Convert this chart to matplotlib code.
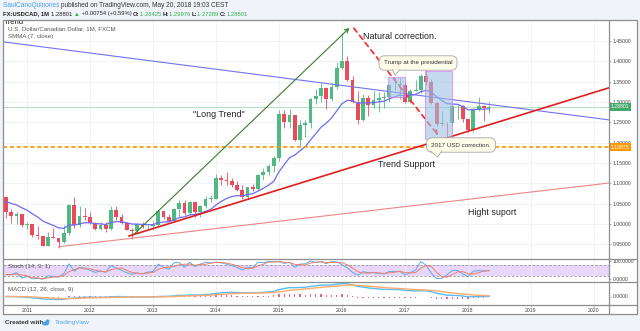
import matplotlib.pyplot as plt
import numpy as np
import pandas as pd
from matplotlib.patches import Rectangle, Polygon, Ellipse

W, H = 640, 331
plt.rcParams['font.family'] = ['Liberation Sans', 'DejaVu Sans']

# USDCAD monthly bars (FXCM), Sep 2010 .. May 2018
start = 2010 + 8 / 12
opens = [1.0660, 1.0285, 1.0200, 1.0250,
         0.9980, 1.0000, 0.9720, 0.9700, 0.9460, 0.9690, 0.9650, 0.9560, 0.9790, 1.0470, 0.9970, 1.0200,
         1.0180, 1.0020, 0.9880, 0.9980, 0.9880, 1.0350, 1.0180, 1.0030, 0.9860, 0.9830, 0.9990, 0.9940,
         0.9950, 0.9980, 1.0310, 1.0160, 1.0080, 1.0370, 1.0510, 1.0270, 1.0530, 1.0300, 1.0430, 1.0620,
         1.0620, 1.1130, 1.1080, 1.1050, 1.0960, 1.0840, 1.0670, 1.0900, 1.0870, 1.1200, 1.1270, 1.1430,
         1.1620, 1.2700, 1.2500, 1.2670, 1.2070, 1.2440, 1.2490, 1.3070, 1.3140, 1.3340, 1.3080, 1.3360,
         1.3840, 1.4020, 1.3530, 1.2990, 1.2550, 1.3090, 1.2920, 1.3060, 1.3110, 1.3120, 1.3410, 1.3430,
         1.3430, 1.3010, 1.3280, 1.3300, 1.3650, 1.3500, 1.2970, 1.2470, 1.2490, 1.2480, 1.2890, 1.2900,
         1.2570, 1.2320, 1.2820, 1.2890, 1.28425]
highs = [1.0680, 1.0370, 1.0300, 1.0250,
         1.0050, 1.0000, 0.9940, 0.9700, 0.9810, 0.9900, 0.9650, 0.9970, 1.0500, 1.0660, 1.0450, 1.0400,
         1.0290, 1.0050, 1.0050, 1.0050, 1.0450, 1.0450, 1.0250, 1.0050, 0.9890, 1.0000, 1.0050, 0.9970,
         1.0080, 1.0340, 1.0330, 1.0250, 1.0400, 1.0600, 1.0580, 1.0560, 1.0540, 1.0470, 1.0680, 1.0720,
         1.1220, 1.1200, 1.1280, 1.1140, 1.1050, 1.0960, 1.0920, 1.0990, 1.1220, 1.1380, 1.1470, 1.1670,
         1.2800, 1.2800, 1.2830, 1.2690, 1.2560, 1.2560, 1.3100, 1.3330, 1.3460, 1.3360, 1.3460, 1.3990,
         1.4690, 1.4140, 1.3650, 1.3260, 1.3190, 1.3160, 1.3260, 1.3250, 1.3240, 1.3420, 1.3600, 1.3600,
         1.3500, 1.3310, 1.3540, 1.3700, 1.3790, 1.3560, 1.3010, 1.2780, 1.2510, 1.2920, 1.2920, 1.2920,
         1.2590, 1.2860, 1.3120, 1.2930, 1.29976]
lows = [1.0150, 1.0030, 1.0000, 0.9930,
        0.9870, 0.9690, 0.9640, 0.9450, 0.9450, 0.9650, 0.9406, 0.9520, 0.9720, 0.9900, 0.9920, 1.0100,
        0.9990, 0.9840, 0.9840, 0.9800, 0.9860, 1.0100, 1.0000, 0.9860, 0.9630, 0.9780, 0.9910, 0.9840,
        0.9840, 0.9960, 1.0120, 1.0070, 1.0040, 1.0160, 1.0230, 1.0230, 1.0180, 1.0180, 1.0400, 1.0550,
        1.0620, 1.0950, 1.0960, 1.0910, 1.0810, 1.0620, 1.0620, 1.0810, 1.0840, 1.1080, 1.1210, 1.1290,
        1.1560, 1.2350, 1.2360, 1.2050, 1.1920, 1.2140, 1.2360, 1.2950, 1.3010, 1.2830, 1.3020, 1.3330,
        1.3820, 1.3520, 1.2970, 1.2460, 1.2540, 1.2660, 1.2850, 1.2760, 1.2840, 1.3000, 1.3290, 1.3080,
        1.2970, 1.2970, 1.3260, 1.3220, 1.3420, 1.2960, 1.2410, 1.2410, 1.2060, 1.2440, 1.2590, 1.2510,
        1.2250, 1.2250, 1.2790, 1.2530, 1.27289]
closes = [1.0285, 1.0200, 1.0250, 0.9980,
          1.0000, 0.9720, 0.9700, 0.9460, 0.9690, 0.9650, 0.9560, 0.9790, 1.0470, 0.9970, 1.0200, 1.0180,
          1.0020, 0.9880, 0.9980, 0.9880, 1.0350, 1.0180, 1.0030, 0.9860, 0.9830, 0.9990, 0.9940, 0.9950,
          0.9980, 1.0310, 1.0160, 1.0080, 1.0370, 1.0510, 1.0270, 1.0530, 1.0300, 1.0430, 1.0620, 1.0620,
          1.1130, 1.1080, 1.1050, 1.0960, 1.0840, 1.0670, 1.0900, 1.0870, 1.1200, 1.1270, 1.1430, 1.1620,
          1.2700, 1.2500, 1.2670, 1.2070, 1.2440, 1.2490, 1.3070, 1.3140, 1.3340, 1.3080, 1.3360, 1.3840,
          1.4020, 1.3530, 1.2990, 1.2550, 1.3090, 1.2920, 1.3060, 1.3110, 1.3120, 1.3410, 1.3430, 1.3430,
          1.3010, 1.3280, 1.3300, 1.3650, 1.3500, 1.2970, 1.2470, 1.2490, 1.2480, 1.2890, 1.2900, 1.2570,
          1.2320, 1.2820, 1.2890, 1.2843, 1.28801]

smma_start = 1.06          # SMMA value carried in from before Sep 2010
last_close = 1.28801
level_2017 = 1.18875
years = list(range(2011, 2021))
price_ticks = [0.95, 1.00, 1.05, 1.10, 1.15, 1.20, 1.25, 1.30, 1.35, 1.40, 1.45]

up_col, dn_col = '#4fb883', '#ea4a5a'
grid_col = '#edf1f5'
frame_col = '#8e8e8e'
axis_fs = 3.7

# indicators
cs = pd.Series(closes)
smma = []
prev = smma_start
for c in closes:
    prev = (prev * 6 + c) / 7
    smma.append(prev)
hh = pd.Series(highs).rolling(14, min_periods=1).max()
ll = pd.Series(lows).rolling(14, min_periods=1).min()
stoch_k = 100 * (cs - ll) / (hh - ll)
stoch_d = stoch_k.rolling(3, min_periods=1).mean()
macd = cs.ewm(span=12, adjust=False).mean() - cs.ewm(span=26, adjust=False).mean()
signal = macd.ewm(span=9, adjust=False).mean()
hist = macd - signal

t = start + np.arange(len(closes)) / 12
o, h, l, c = map(np.array, (opens, highs, lows, closes))
cols = np.where(c >= o, up_col, dn_col)

fig = plt.figure(figsize=(W / 100, H / 100), dpi=100, facecolor='#f0f3f7')


def px_axes(left, top, right, bottom, **kw):
    return fig.add_axes([left / W, 1 - bottom / H, (right - left) / W, (bottom - top) / H], **kw)


bg = px_axes(0, 0, W, H, zorder=-5)
bg.set_xlim(0, W); bg.set_ylim(H, 0); bg.axis('off')
bg.add_patch(Rectangle((3, 20), 634, 294, fc='white', ec='none'))

ax = px_axes(3, 20, 609, 258.5)
ax_s = px_axes(3, 259.5, 609, 281)
ax_m = px_axes(3, 282, 609, 304.5)

x0, x1 = 2010.619, 2020.238
for a in (ax, ax_s, ax_m):
    a.set_xlim(x0, x1)
    a.set_xticks(years)
    for sp in a.spines.values():
        sp.set_visible(False)
    a.yaxis.tick_right()
    a.tick_params(axis='y', length=1.5, width=0.5, color='#999', labelsize=axis_fs,
                  labelcolor='#444', pad=1)
    a.tick_params(axis='x', length=0, labelbottom=False)
    a.grid(axis='x', color=grid_col, lw=0.6)
    a.set_axisbelow(True)

# ---- price pane
ax.set_ylim(0.9151, 1.50165)
ax.set_yticks(price_ticks)
ax.set_yticklabels([f'{v:.5f}' for v in price_ticks])
ax.grid(axis='y', color=grid_col, lw=0.6)

ax.vlines(t, l, h, colors=cols, lw=0.6, zorder=3)
ax.bar(t, np.maximum(np.abs(c - o), 0.0012), bottom=np.minimum(o, c), width=0.76 / 12,
       color=cols, lw=0, zorder=3)
ax.plot(t, smma, color='#6c6cf2', lw=0.9, zorder=4)

ax.axhline(last_close, color='#b5dfc0', lw=0.7, zorder=2)
ax.axhline(level_2017, color='#ff9500', lw=1.2, ls=(0, (2.5, 1.6)), zorder=4)

# trend lines
ax.plot([2010.62, 2020.24], [1.448, 1.256], color='#7272f0', lw=0.8, zorder=5)
ax.plot([2012.62, 2020.24], [0.9705, 1.335], color='#e01e1e', lw=1.2, zorder=5)
ax.plot([2011.50, 2020.24], [0.944, 1.1008], color='#f08585', lw=0.8, zorder=5)
ax.annotate('', xy=(2016.15, 1.487), xytext=(2012.66, 0.969),
            arrowprops=dict(arrowstyle='->', color='#3a7d2c', lw=0.8, mutation_scale=7), zorder=5)
ax.annotate('', xy=(2017.556, 1.212), xytext=(2016.16, 1.487),
            arrowprops=dict(arrowstyle='->', color='#ff2626', lw=1.2, ls=(0, (3, 2.5)),
                            mutation_scale=7), zorder=5)

# highlighted ranges
for (bx, by, bw, bh) in [(2016.735, 1.3115, 0.265, 0.0507), (2017.317, 1.209, 0.424, 0.168)]:
    ax.add_patch(Rectangle((bx, by), bw, bh, fc='#9fc0e4', ec='#d86cf0', lw=0.8, alpha=0.6, zorder=6))

# callouts
callout_kw = dict(fontsize=4.5, color='#333', ha='center', va='center', zorder=8,
                  bbox=dict(boxstyle='round,pad=0.75,rounding_size=0.9', fc='#fffde9', ec='#a5a5a5', lw=0.6))
ax.text(2017.206, 1.3959, 'Trump at the presidential', **callout_kw)
ax.add_patch(Polygon([(2016.80, 1.3795), (2016.92, 1.3795), (2016.84, 1.366)], closed=True,
                     fc='#fffde9', ec='none', zorder=9))
ax.plot([2016.80, 2016.84, 2016.92], [1.3795, 1.366, 1.3795], color='#a5a5a5', lw=0.6, zorder=9)
ax.text(2017.889, 1.1942, '2017 USD correction.', **callout_kw)
ax.add_patch(Polygon([(2017.40, 1.1795), (2017.58, 1.1795), (2017.52, 1.1647)], closed=True,
                     fc='#fffde9', ec='none', zorder=9))
ax.plot([2017.40, 2017.52, 2017.58], [1.1795, 1.1647, 1.1795], color='#a5a5a5', lw=0.6, zorder=9)

note_kw = dict(fontsize=6.4, color='#222', ha='left', va='center', zorder=8)
ax.text(2016.33, 1.46, 'Natural correction.', **note_kw)
ax.text(2013.63, 1.27, '"Long Trend"', **note_kw)
ax.text(2016.57, 1.1463, 'Trend Support', **note_kw)
ax.text(2018.00, 1.027, 'Hight suport', **note_kw)

# price-scale labels
for val, fc in [(last_close, '#43a86a'), (level_2017, '#ff9800')]:
    ax.annotate(f'{val:.5f}', xy=(1, val), xycoords=('axes fraction', 'data'), xytext=(1.5, 0),
                textcoords='offset points', ha='left', va='center', fontsize=axis_fs, color='white',
                bbox=dict(boxstyle='square,pad=0.3', fc=fc, ec='none'), annotation_clip=False, zorder=10)

# ---- stochastic pane
ax_s.set_ylim(-8.7, 107.7)
ax_s.set_yticks([0, 100])
ax_s.set_yticklabels(['0.0000', '100.0000'])
ax_s.axhspan(20, 80, color='#e9d6fb', lw=0, zorder=0)
for lev in (20, 80):
    ax_s.axhline(lev, color='#9a9a9a', lw=0.6, ls=(0, (3, 2)), zorder=1)
ax_s.plot(t, stoch_k, color='#5ea9f4', lw=0.7, zorder=3)
ax_s.plot(t, stoch_d, color='#ef7f62', lw=0.7, zorder=3)

# ---- MACD pane
top = macd.max()
ax_m.set_ylim(-top * 8 / 13, top * 14.5 / 13)
ax_m.set_yticks([0])
ax_m.set_yticklabels(['0.0000'])
ax_m.bar(t, hist, width=0.22 / 12, color='#f25c8a', lw=0, zorder=2)
ax_m.plot(t, macd, color='#5bbcf2', lw=1.0, zorder=3)
ax_m.plot(t, signal, color='#ffaa6e', lw=1.0, zorder=3)
ax_m.tick_params(axis='x', length=1.5, width=0.5, color='#999', labelbottom=True,
                 labelsize=axis_fs, labelcolor='#444', pad=1.2)
ax_m.set_xticklabels([str(y) for y in years])

# ---- frame, header and footer drawn in pixel space
ov = px_axes(0, 0, W, H, zorder=10)
ov.set_xlim(0, W); ov.set_ylim(H, 0); ov.axis('off')
ov.patch.set_alpha(0)

ov.text(3.5, 23.8, 'Trend', fontsize=5.6, color='#222', va='baseline', zorder=1)
ov.add_patch(Rectangle((0, 0), W, 19.6, fc='#f0f3f7', ec='none', zorder=2))

frame = dict(color=frame_col, lw=0.9, zorder=4, solid_capstyle='butt')
ov.plot([3, 637, 637, 3, 3], [20, 20, 314, 314, 20], **frame)
ov.plot([609, 609], [20, 314], **frame)
for yy in (259, 281.5, 304.8):
    ov.plot([3, 637], [yy, yy], **frame)

leg_kw = dict(fontsize=4.4, color='#555', va='center', zorder=3)
ov.text(7.5, 28.5, 'U.S. Dollar/Canadian Dollar, 1M, FXCM', **leg_kw)
ov.text(7.5, 36.5, 'SMMA (7, close)', **leg_kw)
ov.text(7.5, 266.7, 'Stoch (14, 3, 1)', **leg_kw)
ov.text(7.5, 290, 'MACD (12, 26, close, 9)', **leg_kw)

rend = fig.canvas.get_renderer()


def runs(x, y, parts, size):
    for s, color, weight in parts:
        txt = ov.text(x, y, s, color=color, fontsize=size, fontweight=weight, va='center', zorder=3)
        x += txt.get_window_extent(rend).width


green = '#2fb34a'
runs(3, 5.5, [('SaulCanoQuinones ', '#4aa0e6', 'normal'),
              ('published on TradingView.com, May 20, 2018 19:03 CEST', '#333', 'normal')], 4.7)
runs(3, 14, [('FX:USDCAD, 1M ', '#222', 'bold'), ('1.28801 ', '#222', 'normal'),
             ('\u25b2', green, 'normal'), (' +0.00754 (+0.59%) ', '#222', 'normal'),
             ('O:', '#222', 'bold'), ('1.28425 ', green, 'normal'),
             ('H:', '#222', 'bold'), ('1.29976 ', green, 'normal'),
             ('L:', '#222', 'bold'), ('1.27289 ', green, 'normal'),
             ('C:', '#222', 'bold'), ('1.28801', green, 'normal')], 4.25)

ov.text(5, 322.5, 'Created with', fontsize=4.6, color='#333', fontweight='bold', va='center', zorder=3)
ov.add_patch(Ellipse((45.5, 323.5), 7, 4, fc='#4aa0e6', ec='none', zorder=3))
ov.add_patch(Ellipse((47.5, 321.3), 4, 3.6, fc='#4aa0e6', ec='none', zorder=3))
ov.text(55, 322.5, 'TradingView', fontsize=4.6, color='#55a8e8', va='center', zorder=3)

fig.savefig('out.png', dpi=100, facecolor=fig.get_facecolor())
